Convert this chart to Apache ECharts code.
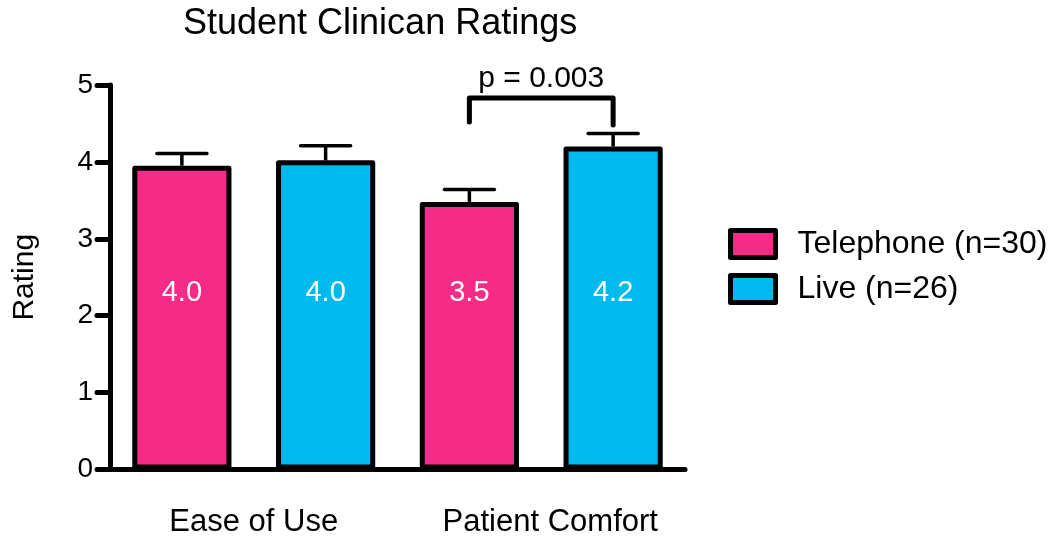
<!DOCTYPE html>
<html>
<head>
<meta charset="utf-8">
<script src="https://cdn.jsdelivr.net/npm/echarts@6/dist/echarts.min.js"></script>
<style>
  html, body { margin: 0; padding: 0; background: #fff; }
  #chart { width: 1053px; height: 539px; }
</style>
</head>
<body>
<div id="chart"></div>
<script>
// Groups along the x axis and the two rating sources
const groups = ['Ease of Use', 'Patient Comfort'];
const seriesNames = ['Telephone (n=30)', 'Live (n=26)'];

// Mean rating and standard error, one value per group
const telephoneMean = [3.95, 3.48];
const telephoneSem = [0.16, 0.16];
const liveMean = [4.02, 4.20];
const liveSem = [0.19, 0.17];

// Significance bracket between the two Patient Comfort bars
const bracketSlots = [2, 3];
const bracketTop = 4.83;
const bracketEnds = [4.52, 4.48];
const bracketLabel = 'p = 0.003';

const yTicks = [0, 1, 2, 3, 4, 5];

const PINK = '#F52B87';
const BLUE = '#00B9EF';
const FONT = '"Liberation Sans", Arial, Helvetica, sans-serif';

// One x slot per bar: Telephone then Live inside each group
const slots = [];
const teleData = [], liveData = [], errData = [];
groups.forEach((g, i) => {
  slots.push(g + ' T', g + ' L');
  teleData.push(telephoneMean[i], '-');
  liveData.push('-', liveMean[i]);
  errData.push([slots.length - 2, telephoneMean[i], telephoneSem[i]]);
  errData.push([slots.length - 1, liveMean[i], liveSem[i]]);
});

const chart = echarts.init(document.getElementById('chart'), null, { renderer: 'canvas' });

const barBase = {
  type: 'bar',
  stack: 'bars',
  barWidth: '69%',
  xAxisIndex: 0,
  itemStyle: { borderColor: '#000', borderWidth: 5, borderJoin: 'round' }
};

chart.setOption({
  animation: false,
  backgroundColor: '#fff',
  title: {
    text: 'Student Clinican Ratings',
    left: 178,
    top: 1,
    textStyle: { fontFamily: FONT, fontSize: 36, fontWeight: 'normal', color: '#000' }
  },
  legend: {
    orient: 'vertical',
    left: 728,
    top: 228,
    padding: 0,
    itemWidth: 45,
    itemHeight: 27,
    itemGap: 13,
    icon: 'rect',
    data: seriesNames,
    itemStyle: { borderColor: '#000', borderWidth: 5 },
    textStyle: { fontFamily: FONT, fontSize: 32, color: '#000', padding: [0, 0, 0, 17] }
  },
  grid: { left: 110, right: 368, top: 85, bottom: 69.5, containLabel: false, outerBoundsMode: 'none' },
  xAxis: [
    {
      type: 'category',
      data: slots,
      axisLine: { lineStyle: { color: '#000', width: 5 } },
      axisTick: { alignWithLabel: true, length: 13, lineStyle: { color: '#000', width: 5, cap: 'round' } },
      axisLabel: { show: false }
    },
    {
      type: 'category',
      data: groups,
      position: 'bottom',
      axisLine: { show: false },
      axisTick: { show: false },
      axisLabel: {
        interval: 0,
        hideOverlap: false,
        margin: 37, fontFamily: FONT, fontSize: 31, color: '#000',
        formatter: (v, i) => (i === 1 ? '{r|' + v + '}' : v),
        rich: { r: { fontFamily: FONT, fontSize: 31, color: '#000', padding: [0, 0, 0, 18] } }
      }
    }
  ],
  yAxis: {
    type: 'value',
    min: yTicks[0],
    max: yTicks[yTicks.length - 1],
    interval: 1,
    name: 'Rating',
    nameLocation: 'middle',
    nameRotate: 90,
    nameGap: 70,
    nameTextStyle: { fontFamily: FONT, fontSize: 30, color: '#000' },
    axisLine: { show: true, lineStyle: { color: '#000', width: 5 } },
    axisTick: { show: true, length: 13, lineStyle: { color: '#000', width: 5, cap: 'round' } },
    axisLabel: { margin: 17, fontFamily: FONT, fontSize: 28, color: '#000' },
    splitLine: { show: false }
  },
  series: [
    // Error bars (mean + SEM) drawn behind the bars
    {
      type: 'custom',
      xAxisIndex: 0,
      z: 1,
      silent: true,
      data: errData,
      renderItem: (params, api) => {
        const x = api.value(0);
        const mean = api.value(1);
        const sem = api.value(2);
        const base = api.coord([x, mean]);
        const top = api.coord([x, mean + sem]);
        const half = 25;
        return {
          type: 'group',
          children: [
            { type: 'line', shape: { x1: base[0], y1: base[1], x2: top[0], y2: top[1] },
              style: { stroke: '#000', lineWidth: 3.5 } },
            { type: 'line', shape: { x1: top[0] - half, y1: top[1], x2: top[0] + half, y2: top[1] },
              style: { stroke: '#000', lineWidth: 3.5, lineCap: 'round' } }
          ]
        };
      }
    },
    Object.assign({}, barBase, { name: seriesNames[0], data: teleData, itemStyle: Object.assign({ color: PINK }, barBase.itemStyle), z: 2 }),
    Object.assign({}, barBase, { name: seriesNames[1], data: liveData, itemStyle: Object.assign({ color: BLUE }, barBase.itemStyle), z: 2 }),
    // Value labels inside the bars
    {
      type: 'custom',
      xAxisIndex: 0,
      z: 5,
      silent: true,
      data: errData,
      renderItem: (params, api) => {
        const p = api.coord([api.value(0), 2.3]);
        return {
          type: 'text',
          style: {
            x: p[0], y: p[1],
            text: api.value(1).toFixed(1),
            fill: '#fff',
            font: '29px ' + FONT,
            textAlign: 'center',
            textVerticalAlign: 'middle'
          }
        };
      }
    },
    // Significance bracket with its p value
    {
      type: 'custom',
      xAxisIndex: 0,
      z: 5,
      silent: true,
      clip: false,
      data: [[bracketSlots[0], bracketSlots[1], bracketTop, bracketEnds[0], bracketEnds[1]]],
      renderItem: (params, api) => {
        const a = api.coord([api.value(0), api.value(3)]);
        const b = api.coord([api.value(0), api.value(2)]);
        const c = api.coord([api.value(1), api.value(2)]);
        const d = api.coord([api.value(1), api.value(4)]);
        return {
          type: 'group',
          children: [
            { type: 'polyline', shape: { points: [a, b, c, d] },
              style: { stroke: '#000', lineWidth: 5, fill: null, lineCap: 'round', lineJoin: 'round' } },
            { type: 'text', style: {
                x: (b[0] + c[0]) / 2, y: b[1] - 4,
                text: bracketLabel, fill: '#000',
                font: '30px ' + FONT,
                textAlign: 'center', textVerticalAlign: 'bottom' } }
          ]
        };
      }
    }
  ]
});
</script>
</body>
</html>
